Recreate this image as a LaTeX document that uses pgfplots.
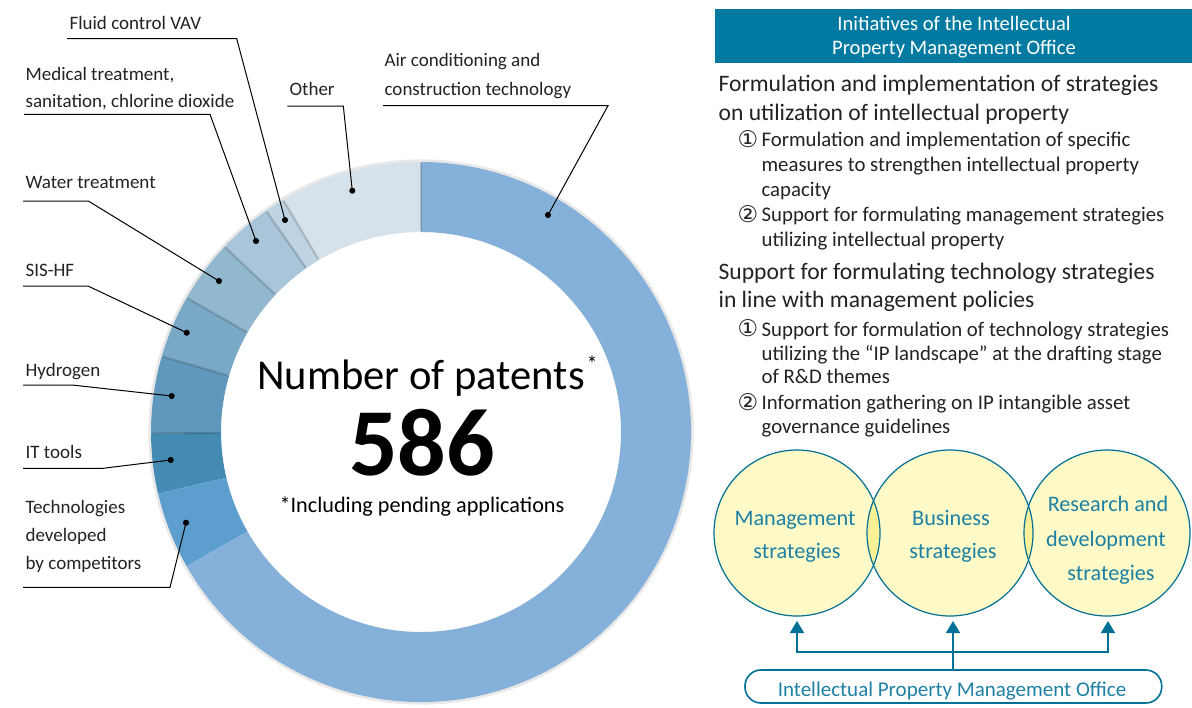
\documentclass[border=0pt]{standalone}
\usepackage{pgfplots}
\pgfplotsset{compat=1.18}
\usetikzlibrary{arrows.meta}
\usepackage{fontspec}
\setmainfont{Carlito}
\newfontfamily\symfont{DejaVu Sans}

\definecolor{cAir}{RGB}{133,176,217}
\definecolor{cComp}{RGB}{92,158,206}
\definecolor{cIT}{RGB}{67,139,178}
\definecolor{cHyd}{RGB}{95,152,188}
\definecolor{cSIS}{RGB}{122,169,199}
\definecolor{cWater}{RGB}{146,184,207}
\definecolor{cMed}{RGB}{168,197,218}
\definecolor{cFluid}{RGB}{190,212,228}
\definecolor{cOther}{RGB}{213,226,236}
\definecolor{ipHead}{RGB}{0,122,160}
\definecolor{ipLine}{RGB}{0,112,150}
\definecolor{ipText}{RGB}{30,128,163}
\definecolor{vennFill}{RGB}{253,250,200}
\definecolor{vennLens}{RGB}{250,240,150}
\definecolor{txt}{RGB}{35,35,35}

% donut: centre (421,432) px, outer 270px = 135pt, inner 200px = 100pt, total 586
% #1 = patents before this slice, #2 = patents in slice, #3 = colour
\newcommand\donutslice[3]{%
  \pgfmathsetmacro\sa{90+#1/586*360}%
  \pgfmathsetmacro\sb{90+(#1+#2)/586*360}%
  \edef\temp{\noexpand\addplot[draw=none, fill=#3] coordinates {(421,432)}
    ([shift={(\sa:135pt)}]axis cs:421,432)
    \noexpand\pgfextra{\noexpand\pgfpatharc{\sa}{\sb}{135pt}}
    -- ([shift={(\sb:100pt)}]axis cs:421,432)
    \noexpand\pgfextra{\noexpand\pgfpatharc{\sb}{\sa}{100pt}}
    -- cycle;}%
  \temp
}
\newcommand\donutsep[1]{%
  \pgfmathsetmacro\sa{90+#1/586*360}%
  \edef\temp{\noexpand\addplot[draw=black, draw opacity=0.16, line width=1.1pt] coordinates {(421,432)}
    ([shift={(\sa:100.5pt)}]axis cs:421,432) -- ([shift={(\sa:134.5pt)}]axis cs:421,432);}%
  \temp
}
\newcommand\vcircle[2]{%
  \pgfplotsextra{%
    \pgfpathcircle{\pgfplotspointaxisxy{#1}{533}}{41.5pt}%
    \pgfsetfillcolor{#2}\pgfusepath{fill}}%
}
\newcommand\vring[1]{%
  \pgfplotsextra{%
    \pgfpathcircle{\pgfplotspointaxisxy{#1}{533}}{41.5pt}%
    \pgfsetlinewidth{0.6pt}\pgfsetstrokecolor{ipLine}\pgfusepath{stroke}}%
}
% lens between the circle centred at #1 (right one) and the one left of it, half angle #2
\newcommand\vlens[2]{%
  \pgfplotsextra{%
    \pgfpathmoveto{\pgfpointadd{\pgfplotspointaxisxy{#1}{533}}{\pgfpointpolar{180-#2}{41.5pt}}}%
    \pgfpatharc{180-#2}{180+#2}{41.5pt}%
    \pgfpatharc{-#2}{#2}{41.5pt}%
    \pgfpathclose
    \pgfsetfillcolor{vennLens}\pgfusepath{fill}}%
}
\newcommand\lbl[3]{\node[anchor=base west, text=txt, font=\fontsize{9.5}{11}\selectfont] at (axis cs:#1,#2) {#3};}
\newcommand\rtx[4]{\node[anchor=base west, text=txt, font=\fontsize{#3}{12}\selectfont] at (axis cs:#1,#2) {#4};}
\newcommand\num[3]{\node[anchor=base west, text=txt, font=\fontsize{11.5}{12}\symfont] at (axis cs:#1,#2) {#3};}

\begin{document}
\begin{tikzpicture}[every node/.append style={inner sep=0pt}]
\begin{axis}[
  x=0.5pt, y=0.5pt, y dir=reverse,
  xmin=0, xmax=1192, ymin=0, ymax=707,
  hide axis, clip=false, xtick=\empty, ytick=\empty,
]
\fill[white] (axis cs:0,0) rectangle (axis cs:1192,707);
\coordinate (pageTL) at (axis cs:0,0);
\coordinate (pageBR) at (axis cs:1192,707);

% soft outer shadow
\pgfplotsextra{%
  \pgfpathcircle{\pgfplotspointaxisxy{421}{432}}{135.5pt}%
  \pgfsetlinewidth{1.6pt}\pgfsetstrokecolor{black!9}\pgfusepath{stroke}}

% slices, anticlockwise from the top
\donutslice{0}{50}{cOther}     % Other
\donutslice{50}{7}{cFluid}     % Fluid control VAV
\donutslice{57}{19}{cMed}      % Medical treatment
\donutslice{76}{22}{cWater}    % Water treatment
\donutslice{98}{22}{cSIS}      % SIS-HF
\donutslice{120}{27}{cHyd}     % Hydrogen
\donutslice{147}{21}{cIT}      % IT tools
\donutslice{168}{27}{cComp}    % competitors
\donutslice{195}{391}{cAir}    % Air conditioning

\donutsep{0}\donutsep{50}\donutsep{57}\donutsep{76}\donutsep{98}\donutsep{120}\donutsep{147}

% centre text
\node[anchor=base, text=black, font=\fontsize{21.3}{24}\selectfont] at (axis cs:421,389) {Number of patents};
\node[anchor=base west, text=black, font=\fontsize{11}{12}\selectfont] at (axis cs:585,371) {*};
\node[anchor=base, text=black, font=\fontsize{48}{50}\selectfont\bfseries] at (axis cs:422,475) {586};
\node[anchor=base, text=black, font=\fontsize{11.1}{12}\selectfont] at (axis cs:422,512) {*Including pending applications};

% leader lines
\addplot[black, line width=0.5pt] coordinates {(67,38.7) (236.7,38.7) (285,220)};
\addplot[black, line width=0.5pt] coordinates {(24,114.3) (210,114.3) (256,241)};
\addplot[black, line width=0.5pt] coordinates {(287.3,106) (343.3,106) (352.3,190.7)};
\addplot[black, line width=0.5pt] coordinates {(383,105.7) (608,105.7) (548,215)};
\addplot[black, line width=0.5pt] coordinates {(23,201) (88.3,201) (219,281)};
\addplot[black, line width=0.5pt] coordinates {(23,286) (88,286) (186.7,332.7)};
\addplot[black, line width=0.5pt] coordinates {(23,385) (72,385) (171.7,396)};
\addplot[black, line width=0.5pt] coordinates {(23,468.3) (103,468.3) (170.7,460)};
\addplot[black, line width=0.5pt] coordinates {(23,587.3) (170,587.3) (186,522.7)};
\addplot[only marks, mark=*, mark size=1.3pt, black] coordinates {
  (285,220) (256,241) (352.3,190.7) (548,215) (219,281)
  (186.7,332.7) (171.7,396) (170.7,460) (186,522.7)};

% labels
\lbl{68}{29}{Fluid control VAV}
\lbl{24}{80}{Medical treatment,}
\lbl{24}{107}{sanitation, chlorine dioxide}
\lbl{288}{95}{Other}
\lbl{383}{66.7}{Air conditioning and}
\lbl{383}{95}{construction technology}
\lbl{24}{188.3}{Water treatment}
\lbl{24}{276}{SIS-HF}
\lbl{24}{376.7}{Hydrogen}
\lbl{24}{458.3}{IT tools}
\lbl{24}{513}{Technologies}
\lbl{24}{541.5}{developed}
\lbl{24}{569.5}{by competitors}

% right panel
\fill[ipHead] (axis cs:715,9) rectangle (axis cs:1192,63);
\node[anchor=base, text=white, font=\fontsize{10.3}{12}\selectfont] at (axis cs:954,30.7) {Initiatives of the Intellectual};
\node[anchor=base, text=white, font=\fontsize{10.3}{12}\selectfont] at (axis cs:954,54.5) {Property Management Office};

\rtx{717}{91.7}{11.8}{Formulation and implementation of strategies}
\rtx{717}{120.7}{11.8}{on utilization of intellectual property}
\num{736}{147.5}{①}
\rtx{760}{146.7}{10.4}{Formulation and implementation of specific}
\rtx{760}{171.7}{10.4}{measures to strengthen intellectual property}
\rtx{760}{196.7}{10.4}{capacity}
\num{736}{222.5}{②}
\rtx{760}{221.7}{10.4}{Support for formulating management strategies}
\rtx{760}{246.7}{10.4}{utilizing intellectual property}
\rtx{717}{279.3}{11.8}{Support for formulating technology strategies}
\rtx{717}{307.3}{11.8}{in line with management policies}
\num{736}{336.8}{①}
\rtx{760}{336}{10.4}{Support for formulation of technology strategies}
\rtx{760}{360}{10.4}{utilizing the “IP landscape” at the drafting stage}
\rtx{760}{383.3}{10.4}{of R\&D themes}
\num{736}{410.1}{②}
\rtx{760}{409.3}{10.4}{Information gathering on IP intangible asset}
\rtx{760}{433.3}{10.4}{governance guidelines}

% venn circles
\vcircle{797}{vennFill}\vcircle{950}{vennFill}\vcircle{1107}{vennFill}
\vlens{950}{22.8}\vlens{1107}{19}
\vring{797}\vring{950}\vring{1107}

\node[anchor=base, text=ipText, font=\fontsize{11.1}{12}\selectfont] at (axis cs:795,525) {Management};
\node[anchor=base, text=ipText, font=\fontsize{11.1}{12}\selectfont] at (axis cs:797,558) {strategies};
\node[anchor=base, text=ipText, font=\fontsize{11.1}{12}\selectfont] at (axis cs:951,525) {Business};
\node[anchor=base, text=ipText, font=\fontsize{11.1}{12}\selectfont] at (axis cs:953,558) {strategies};
\node[anchor=base, text=ipText, font=\fontsize{11.1}{12}\selectfont] at (axis cs:1108,511.7) {Research and};
\node[anchor=base, text=ipText, font=\fontsize{11.1}{12}\selectfont] at (axis cs:1106,546.7) {development};
\node[anchor=base, text=ipText, font=\fontsize{11.1}{12}\selectfont] at (axis cs:1111,580) {strategies};

% arrows from the office
\addplot[ipLine, line width=0.8pt, -{Triangle[width=7pt,length=6pt]}] coordinates {(953,652) (797,652) (797,621)};
\addplot[ipLine, line width=0.8pt, -{Triangle[width=7pt,length=6pt]}] coordinates {(953,652) (1108,652) (1108,621)};
\addplot[ipLine, line width=0.8pt, -{Triangle[width=7pt,length=6pt]}] coordinates {(953,670) (953,621)};
\draw[ipLine, line width=0.8pt, rounded corners=8pt, fill=white] (axis cs:745,670) rectangle (axis cs:1161.7,703);
\node[anchor=base, text=ipText, font=\fontsize{10.5}{12}\selectfont] at (axis cs:952,696.7) {Intellectual Property Management Office};
\end{axis}
\pgfresetboundingbox
\useasboundingbox (pageTL) rectangle (pageBR);
\end{tikzpicture}
\end{document}
